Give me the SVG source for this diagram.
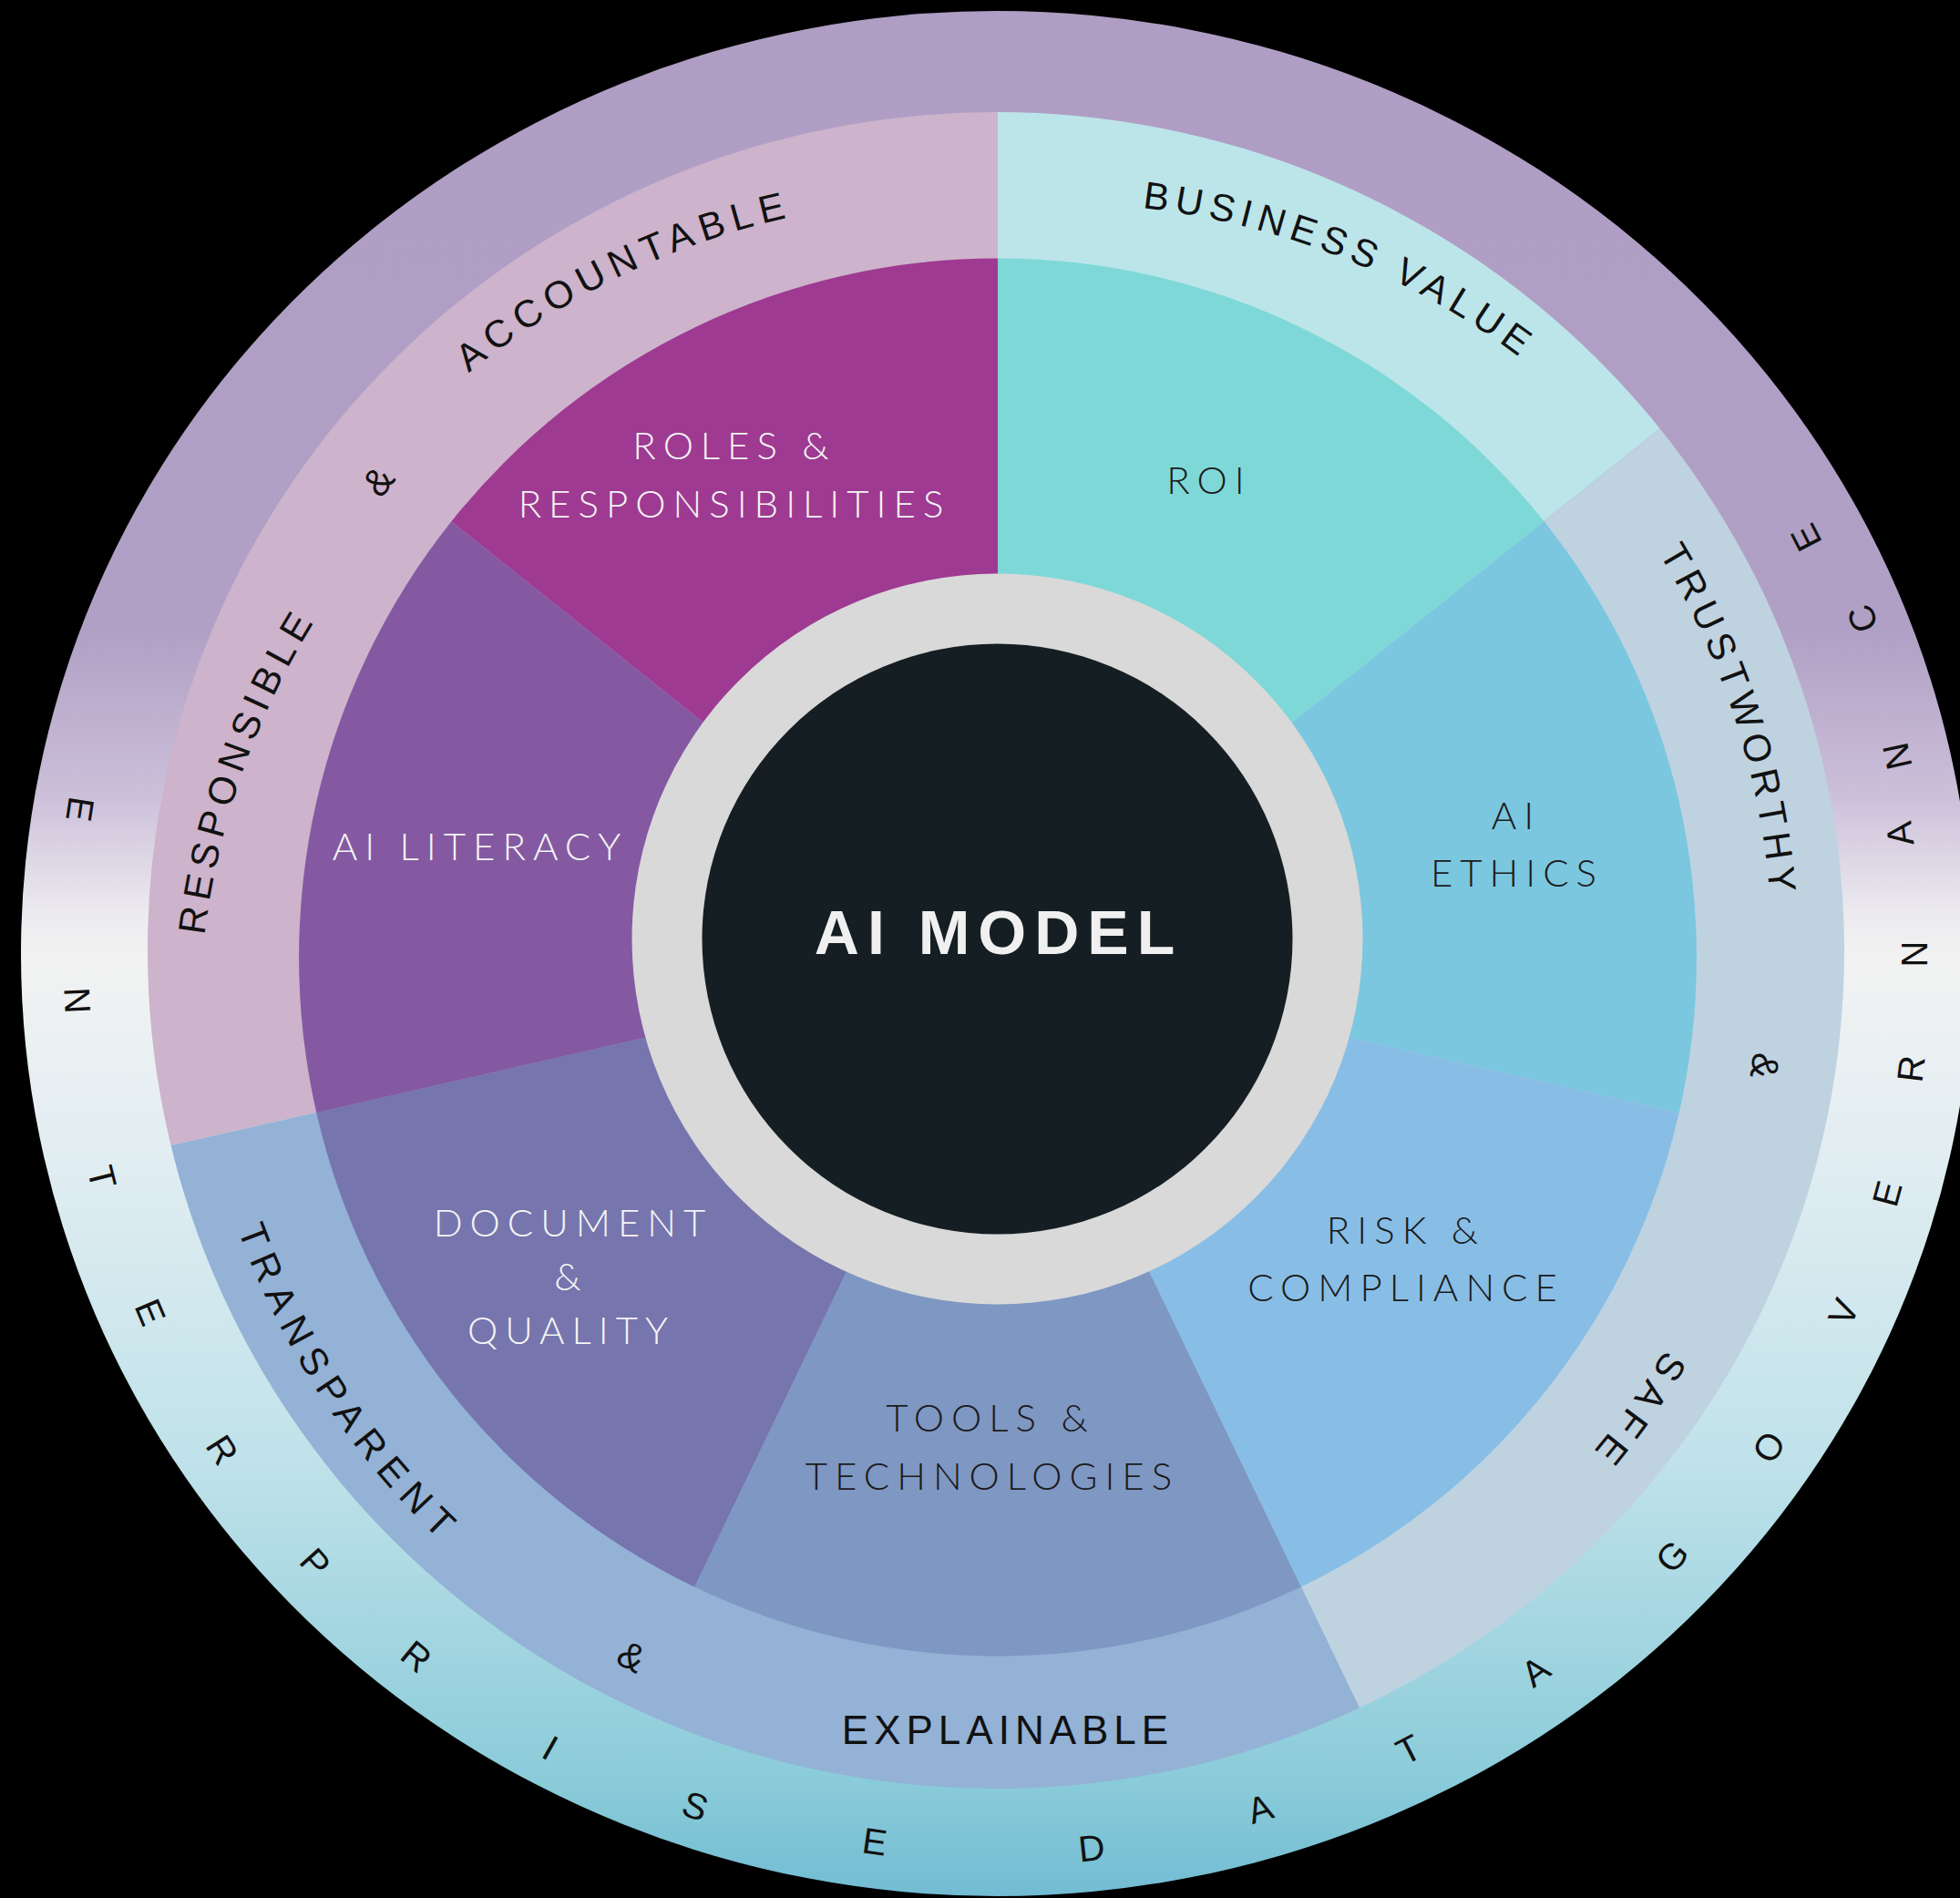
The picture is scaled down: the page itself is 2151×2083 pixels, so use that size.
<svg xmlns="http://www.w3.org/2000/svg" width="2151" height="2083" viewBox="0 0 2151 2083">
<defs>
<style>
.lbl{font-family:Lato,"Liberation Sans",sans-serif;font-weight:300;font-size:42px;letter-spacing:8px;text-anchor:middle}
.w{fill:#F4F4F4}
.d{fill:#1B1B1B}
.arc{font-family:"Liberation Sans",Arial,sans-serif;font-size:42px;fill:#111}
.ring{font-family:"Liberation Sans",Arial,sans-serif;font-size:40px;fill:#111;text-anchor:middle;dominant-baseline:central}
</style>
<linearGradient id="og" gradientUnits="userSpaceOnUse" x1="0" y1="12" x2="0" y2="2081">
<stop offset="0" stop-color="#AF9DC4"/>
<stop offset="0.33" stop-color="#B1A0C5"/>
<stop offset="0.415" stop-color="#CBBFD9"/>
<stop offset="0.478" stop-color="#ECEAEF"/>
<stop offset="0.502" stop-color="#F2F2F2"/>
<stop offset="0.598" stop-color="#E3EEF2"/>
<stop offset="0.768" stop-color="#C0E2EA"/>
<stop offset="0.94" stop-color="#8ACBD9"/>
<stop offset="1" stop-color="#72BCD3"/>
</linearGradient>
<clipPath id="lc"><ellipse cx="1093" cy="1043" rx="931" ry="920"/></clipPath>
<path id="cw" d="M245,1050 A850,850 0 0 1 1945,1050 A850,850 0 0 1 245,1050"/>
<path id="ccw" d="M209,1050 A886,886 0 0 0 1981,1050"/>
<path id="arcResp" d="M422.3,1681 A850,850 0 0 1 912.7,292.9"/>
<path id="arcAcc" d="M204.3,1004.9 A850,850 0 0 1 1530.4,365.4"/>
<path id="arcBus" d="M633,405.2 A850,850 0 0 1 2000.2,951.2"/>
</defs>
<rect width="2151" height="2083" fill="#000"/>

<g id="outer-ring">
<ellipse cx="1094" cy="1046.5" rx="1071" ry="1034.5" fill="url(#og)"/>
<g class="ring">
<text transform="translate(88,888) rotate(98.8)">E</text>
<text transform="translate(85,1098) rotate(87.1)">N</text>
<text transform="translate(112,1292) rotate(75.9)">T</text>
<text transform="translate(165,1440) rotate(67)">E</text>
<text transform="translate(244,1591) rotate(57.3)">R</text>
<text transform="translate(346,1715) rotate(48.2)">P</text>
<text transform="translate(457,1818) rotate(39.5)">R</text>
<text transform="translate(604,1918) rotate(29.4)">I</text>
<text transform="translate(763,1982) rotate(19.5)">S</text>
<text transform="translate(960,2021) rotate(8)">E</text>
<text transform="translate(1198,2028) rotate(-6)">D</text>
<text transform="translate(1383,1985) rotate(-17.1)">A</text>
<text transform="translate(1546,1920) rotate(-27.3)">T</text>
<text transform="translate(1685,1834) rotate(-36.9)">A</text>
<text transform="translate(1835,1708) rotate(-48.2)">G</text>
<text transform="translate(1941,1588) rotate(-57.4)">O</text>
<text transform="translate(2023,1440) rotate(-67)">V</text>
<text transform="translate(2071,1310) rotate(-74.9)">E</text>
<text transform="translate(2097,1173) rotate(-83)">R</text>
<text transform="translate(2101,1047) rotate(-90)">N</text>
<text transform="translate(2085,915) rotate(-97.5)">A</text>
<text transform="translate(2082,830) rotate(-102.3)">N</text>
<text transform="translate(2044,679) rotate(-111.1)">C</text>
<text transform="translate(1982,590) rotate(-117.2)">E</text>
</g>
</g>

<g id="light-ring" clip-path="url(#lc)">
<g id="responsible-accountable"><path d="M1095,1050 L-172.4,1339.3 A1300,1300 0 0 1 1095,-250 Z" fill="#CDB3CB"/></g>
<g id="business-value"><path d="M1095,1050 L1095,-250 A1300,1300 0 0 1 2111.3,239.4 Z" fill="#BCE5EA"/></g>
<g id="trustworthy-safe"><path d="M1095,1050 L2111.3,239.4 A1300,1300 0 0 1 1659.1,2221.3 Z" fill="#BFD2E0"/></g>
<g id="transparent-explainable"><path d="M1095,1050 L1659.1,2221.3 A1300,1300 0 0 1 -172.4,1339.3 Z" fill="#93B2D6"/></g>
</g>

<g id="light-ring-labels" class="arc">
<text letter-spacing="7"><textPath href="#arcResp" startOffset="890" text-anchor="middle">RESPONSIBLE</textPath></text>
<text transform="translate(415,528) rotate(-52.5)" text-anchor="middle" dominant-baseline="central">&amp;</text>
<text letter-spacing="8"><textPath href="#arcAcc" startOffset="890" text-anchor="middle">ACCOUNTABLE</textPath></text>
<text letter-spacing="7"><textPath href="#arcBus" startOffset="890" text-anchor="middle">BUSINESS VALUE</textPath></text>
<text letter-spacing="7"><textPath href="#cw" startOffset="2405" text-anchor="middle">TRUSTWORTHY</textPath></text>
<text transform="translate(1937,1170) rotate(98)" text-anchor="middle" dominant-baseline="central">&amp;</text>
<text letter-spacing="9"><textPath href="#cw" startOffset="3194" text-anchor="middle">SAFE</textPath></text>
<text letter-spacing="10"><textPath href="#ccw" startOffset="515" text-anchor="middle">TRANSPARENT</textPath></text>
<text transform="translate(693,1818) rotate(27.6)" text-anchor="middle" dominant-baseline="central">&amp;</text>
<text x="1106" y="1914" font-size="44" letter-spacing="6" text-anchor="middle">EXPLAINABLE</text>
</g>

<g id="roi"><path d="M1095,1050.5 L1095,283.5 A767,767 0 0 1 1694.6,572.3 Z" fill="#7FD8D8"/>
<text class="lbl d" x="1327" y="542">ROI</text></g>
<g id="ai-ethics"><path d="M1095,1050.5 L1694.6,572.3 A767,767 0 0 1 1842.7,1221.2 Z" fill="#7BC7DF"/>
<text class="lbl d" x="1664" y="910">AI</text><text class="lbl d" x="1665" y="973">ETHICS</text></g>
<g id="risk-compliance"><path d="M1095,1050.5 L1842.7,1221.2 A767,767 0 0 1 1427.8,1741.6 Z" fill="#88BEE6"/>
<text class="lbl d" x="1543" y="1365">RISK &amp;</text><text class="lbl d" x="1543" y="1428">COMPLIANCE</text></g>
<g id="tools-technologies"><path d="M1095,1050.5 L1427.8,1741.6 A767,767 0 0 1 762.2,1741.6 Z" fill="#7F97C3"/>
<text class="lbl d" x="1087" y="1571">TOOLS &amp;</text><text class="lbl d" x="1089" y="1635">TECHNOLOGIES</text></g>
<g id="document-quality"><path d="M1095,1050.5 L762.2,1741.6 A767,767 0 0 1 347.3,1221.2 Z" fill="#7675AE"/>
<text class="lbl w" x="629" y="1357">DOCUMENT</text><text class="lbl w" x="627" y="1416">&amp;</text><text class="lbl w" x="627" y="1475">QUALITY</text></g>
<g id="ai-literacy"><path d="M1095,1050.5 L347.3,1221.2 A767,767 0 0 1 495.4,572.3 Z" fill="#8459A2"/>
<text class="lbl w" x="527" y="944">AI LITERACY</text></g>
<g id="roles-responsibilities"><path d="M1095,1050.5 L495.4,572.3 A767,767 0 0 1 1095,283.5 Z" fill="#9E3A91"/>
<text class="lbl w" x="806" y="504">ROLES &amp;</text><text class="lbl w" x="806" y="568">RESPONSIBILITIES</text></g>

<g id="ai-model">
<circle cx="1094.5" cy="1030.5" r="401" fill="#D9D9D9"/>
<circle cx="1094.5" cy="1030.5" r="324" fill="#151F23"/>
<text x="1096" y="1047" font-family="'Liberation Sans',Arial,sans-serif" font-weight="700" font-size="68" letter-spacing="9" text-anchor="middle" fill="#F0F0F0">AI MODEL</text>
</g>
<g id="connectors"/>
</svg>
